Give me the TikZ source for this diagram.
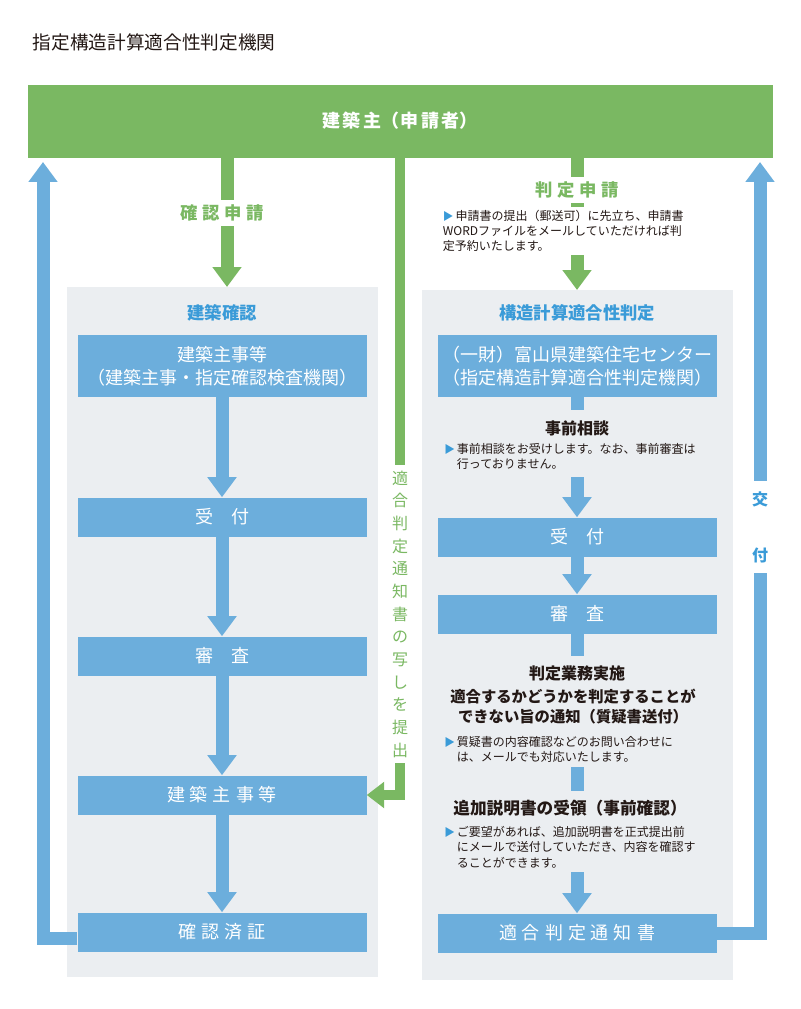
\documentclass[tikz,border=0pt]{standalone}
\usepackage{fontspec}
\setmainfont{Noto Sans CJK JP}
\usetikzlibrary{arrows.meta}
\definecolor{gr}{HTML}{7AB862}
\definecolor{bl}{HTML}{6CAEDC}
\definecolor{tri}{HTML}{3A9BD8}
\definecolor{pan}{HTML}{EBEEF1}
\definecolor{tx}{HTML}{231815}
\newcommand{\tri}{{\color{tri}\footnotesize▶}\,}
\tikzset{
 bbox/.style={fill=bl,text=white,font=\fontsize{13.5}{17}\selectfont,align=center},
 barr/.style={draw=bl,line width=9.75pt,-{Triangle[width=21pt,length=15pt]}},
 bline/.style={draw=bl,line width=9.75pt},
 garr/.style={draw=gr,line width=9.75pt,-{Triangle[width=21pt,length=15pt]}},
 note/.style={font=\fontsize{9}{11.5}\selectfont,text=tx,align=left,anchor=north west,inner sep=0},
 hd/.style={font=\bfseries\fontsize{12}{15}\selectfont,text=tx},
 ttl/.style={font=\bfseries\fontsize{13}{16}\selectfont,text=tri},
 glab/.style={font=\bfseries\fontsize{13}{16}\selectfont,text=gr,fill=white}
}
\begin{document}
\begin{tikzpicture}[x=0.75pt,y=-0.75pt]
\useasboundingbox (0,0) rectangle (800,1009);
\node[anchor=west,font=\fontsize{14}{17}\selectfont,text=tx] (title) at (28,42) {指定構造計算適合性判定機関};
\fill[gr] (28,85) rectangle (773,158);
\node[text=white,font=\bfseries\fontsize{13.5}{16}\selectfont] (owner) at (400,121) {建\,築\,主（申\,請\,者）};
% panels
\fill[pan] (67,287) rectangle (378,977);
\fill[pan] (422,290) rectangle (733,980);
\node[ttl] (lt) at (222,313) {建築確認};
\node[ttl] (rt) at (577,313) {構造計算適合性判定};
% left boxes
\node[bbox,minimum width=289*0.75pt,minimum height=62*0.75pt] (l1) at (222,366) {建築主事等\\（建築主事・指定確認検査機関）};
\node[bbox,minimum width=289*0.75pt,minimum height=39*0.75pt] (l2) at (222,517) {受　付};
\node[bbox,minimum width=289*0.75pt,minimum height=39*0.75pt] (l3) at (222,656) {審　査};
\node[bbox,minimum width=289*0.75pt,minimum height=39*0.75pt] (l4) at (222,795) {建\;築\;主\;事\;等};
\node[bbox,minimum width=289*0.75pt,minimum height=39*0.75pt] (l5) at (222,932) {確\;認\;済\;証};
\draw[barr] (l1.south) -- (l2.north);
\draw[barr] (l2.south) -- (l3.north);
\draw[barr] (l3.south) -- (l4.north);
\draw[barr] (l4.south) -- (l5.north);
% left green arrow
\coordinate (lg0) at (227,158);
\coordinate (lg1) at (227,287);
\draw[garr] (lg0) -- (lg1);
\node[glab] (lgl) at (222,213) {確\;認\;申\;請};
% left blue return
\coordinate (lb1) at (43,938);
\coordinate (lb2) at (43,162);
\draw[barr] (l5.west|-lb1) -- (lb1) -- (lb2);
% middle green
\coordinate (mg0) at (400,158);
\coordinate (mg1) at (400,795);
\draw[draw=gr,line width=7.5pt,-{Triangle[width=19pt,length=13pt]}] (mg0) -- (mg1) -- (l4.east);
\node[glab,align=center,font=\fontsize{12}{17}\selectfont,inner xsep=2pt,inner ysep=4pt] (mgl) at (400,614) {適\\合\\判\\定\\通\\知\\書\\の\\写\\し\\を\\提\\出};
% right green arrow
\coordinate (rg0) at (577,158);
\coordinate (rg1) at (577,290);
\draw[garr] (rg0) -- (rg1);
\node[glab] (rgl) at (577,190) {判\;定\;申\;請};
\node[note,fill=white,inner sep=2pt] (rn) at (440,207) {\tri 申請書の提出（郵送可）に先立ち、申請書\\WORDファイルをメールしていただければ判\\定予約いたします。};
% right column
\node[bbox,minimum width=279*0.75pt,minimum height=62*0.75pt] (r1) at (577,366) {（一財）富山県建築住宅センター\\（指定構造計算適合性判定機関）};
\node[bbox,minimum width=279*0.75pt,minimum height=39*0.75pt] (r2) at (577,537) {受　付};
\node[bbox,minimum width=279*0.75pt,minimum height=39*0.75pt] (r3) at (577,614) {審　査};
\node[bbox,minimum width=279*0.75pt,minimum height=39*0.75pt] (r4) at (577,933) {適\;合\;判\;定\;通\;知\;書};
\node[hd] (h1) at (577,428) {事前相談};
\node[note] (n1) at (444,443) {\tri 事前相談をお受けします。なお、事前審査は\\\phantom{\tri}行っておりません。};
\node[hd] (h2) at (577,673) {判定業務実施};
\node[hd,align=center,font=\bfseries\fontsize{11.5}{15}\selectfont] (h3) at (573,707) {適合するかどうかを判定することが\\できない旨の通知（質疑書送付）};
\node[note] (n3) at (444,736) {\tri 質疑書の内容確認などのお問い合わせに\\\phantom{\tri}は、メールでも対応いたします。};
\node[hd,font=\bfseries\fontsize{12.5}{15}\selectfont] (h4) at (570,808) {追加説明書の受領（事前確認）};
\node[note] (n4) at (444,826) {\tri ご要望があれば、追加説明書を正式提出前\\\phantom{\tri}にメールで送付していただき、内容を確認す\\\phantom{\tri}ることができます。};
\draw[bline] (r1.south) -- (577,410);
\coordinate (a1) at (577,477);
\draw[barr] (a1) -- (r2.north);
\draw[barr] (r2.south) -- (r3.north);
\draw[bline] (r3.south) -- (577,656);
\coordinate (b1) at (577,767);\coordinate (b2) at (577,791);
\draw[bline] (b1) -- (b2);
\coordinate (c1) at (577,872);
\draw[barr] (c1) -- (r4.north);
% right blue return
\coordinate (rb1) at (760,933);
\coordinate (rb2) at (760,162);
\draw[barr] (r4.east) -- (rb1) -- (rb2);
\node[fill=white,text=tri,font=\bfseries\fontsize{12}{15}\selectfont,align=center,inner ysep=8pt] (rbl) at (760,527) {交\\[27pt]付};
\end{tikzpicture}
\end{document}
